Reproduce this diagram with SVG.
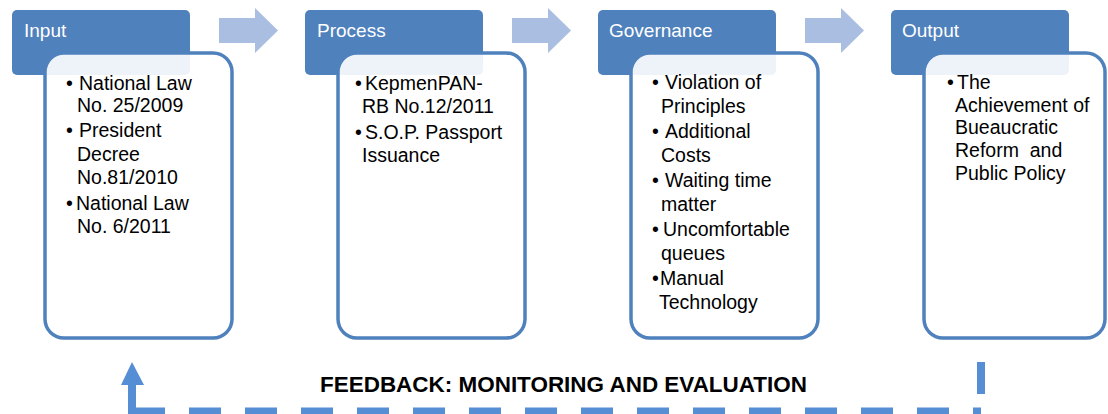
<svg xmlns="http://www.w3.org/2000/svg" width="1108" height="414" viewBox="0 0 1108 414">
<style>
.hdr{fill:#4f81bd}
.body{fill:#ffffff;fill-opacity:0.9;stroke:#4f81bd;stroke-width:3.5}
.ht{font-family:"Liberation Sans",Arial,sans-serif;font-size:19px;fill:#ffffff}
.bt{font-family:"Liberation Sans",Arial,sans-serif;font-size:19.5px;fill:#000000}
.flow{fill:#a9bee0}
.fb{stroke:#558ed5;stroke-width:7;fill:none}
.fbt{font-family:"Liberation Sans",Arial,sans-serif;font-size:22px;font-weight:bold;fill:#000000}
</style>
<defs>
<polygon id="flowArrow" class="flow" points="0,8 36,8 36,-2 59,20.5 36,43 36,33 0,33" />
</defs>

<g id="connectors">
<use href="#flowArrow" x="219" y="10"/>
<use href="#flowArrow" x="512" y="10"/>
<use href="#flowArrow" x="805" y="10"/>
<line class="fb" x1="981" y1="411" x2="132" y2="411" stroke-dasharray="32 24" stroke-dashoffset="24"/>
<line class="fb" x1="981" y1="362" x2="981" y2="394" style="stroke-width:8"/>
<line class="fb" x1="132" y1="384" x2="132" y2="414" style="stroke-width:8"/>
<polygon points="132,362 121,385 144,385" fill="#558ed5"/>
<text class="fbt" x="320" y="392" textLength="487" lengthAdjust="spacingAndGlyphs">FEEDBACK: MONITORING AND EVALUATION</text>
</g>

<g id="input">
<rect class="hdr" x="12" y="10" width="178" height="65" rx="5"/>
<text class="ht" x="24" y="37">Input</text>
<rect class="body" x="45" y="53" width="187" height="285" rx="19"/>
<text class="bt" x="66" y="90">•</text><text class="bt" x="79" y="90">National Law</text>
<text class="bt" x="77" y="112">No. 25/2009</text>
<text class="bt" x="66" y="137">•</text><text class="bt" x="79" y="137">President</text>
<text class="bt" x="77" y="161">Decree</text>
<text class="bt" x="77" y="184">No.81/2010</text>
<text class="bt" x="66" y="210">•</text><text class="bt" x="76" y="210">National Law</text>
<text class="bt" x="77" y="233">No. 6/2011</text>
</g>

<g id="process">
<rect class="hdr" x="305" y="10" width="178" height="65" rx="5"/>
<text class="ht" x="317" y="37">Process</text>
<rect class="body" x="338" y="53" width="187" height="285" rx="19"/>
<text class="bt" x="355" y="90">•</text><text class="bt" x="365" y="90">KepmenPAN-</text>
<text class="bt" x="362" y="113">RB No.12/2011</text>
<text class="bt" x="355" y="139">•</text><text class="bt" x="365" y="139">S.O.P. Passport</text>
<text class="bt" x="362" y="162">Issuance</text>
</g>

<g id="governance">
<rect class="hdr" x="598" y="10" width="178" height="65" rx="5"/>
<text class="ht" x="609" y="37">Governance</text>
<rect class="body" x="631" y="53" width="187" height="285" rx="19"/>
<text class="bt" x="652" y="89">•</text><text class="bt" x="665" y="89">Violation of</text>
<text class="bt" x="661" y="112.5">Principles</text>
<text class="bt" x="652" y="138">•</text><text class="bt" x="665" y="138">Additional</text>
<text class="bt" x="661" y="161.5">Costs</text>
<text class="bt" x="652" y="187">•</text><text class="bt" x="665" y="187">Waiting time</text>
<text class="bt" x="661" y="210.5">matter</text>
<text class="bt" x="652" y="236">•</text><text class="bt" x="663" y="236">Uncomfortable</text>
<text class="bt" x="661" y="259.5">queues</text>
<text class="bt" x="652" y="285">•</text><text class="bt" x="660" y="285">Manual</text>
<text class="bt" x="659" y="308.5">Technology</text>
</g>

<g id="output">
<rect class="hdr" x="891" y="10" width="178" height="65" rx="5"/>
<text class="ht" x="902" y="37">Output</text>
<rect class="body" x="924" y="53" width="181" height="285" rx="19"/>
<text class="bt" x="947" y="89">•</text><text class="bt" x="957" y="89">The</text>
<text class="bt" x="955" y="111.5">Achievement of</text>
<text class="bt" x="955" y="134">Bueaucratic</text>
<text class="bt" x="955" y="157">Reform&#160; and</text>
<text class="bt" x="955" y="180">Public Policy</text>
</g>
</svg>
